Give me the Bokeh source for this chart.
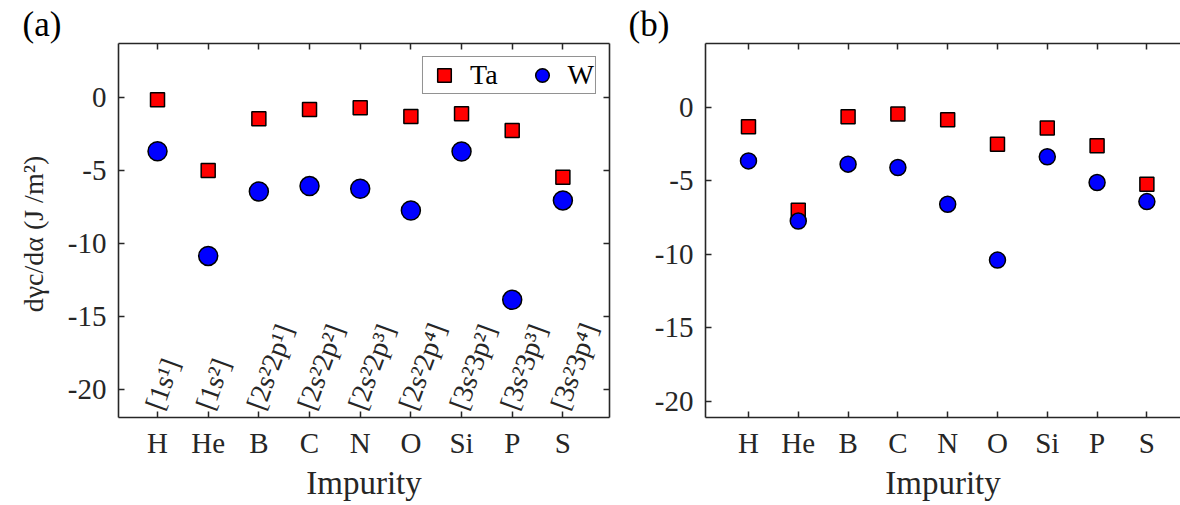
import math
from bokeh.plotting import figure
from bokeh.models import FixedTicker, LinearAxis, Legend, LegendItem, Range1d, Title
from bokeh.layouts import row
from bokeh.embed import file_html
from bokeh.resources import INLINE
from bokeh.core.properties import value

# ---------------- data ----------------
impurities = ["H", "He", "B", "C", "N", "O", "Si", "P", "S"]
configs = ["[1s¹]", "[1s²]", "[2s²2p¹]", "[2s²2p²]", "[2s²2p³]",
           "[2s²2p⁴]", "[3s²3p²]", "[3s²3p³]", "[3s²3p⁴]"]
ta_a = [-0.15, -5.0, -1.46, -0.82, -0.70, -1.30, -1.12, -2.26, -5.46]
w_a = [-3.68, -10.85, -6.44, -6.07, -6.25, -7.74, -3.70, -13.86, -7.05]
ta_b = [-1.32, -7.0, -0.63, -0.45, -0.84, -2.50, -1.40, -2.61, -5.23]
w_b = [-3.64, -7.73, -3.86, -4.09, -6.59, -10.39, -3.36, -5.11, -6.41]
y_ticks = [-20, -15, -10, -5, 0]
series_names = ["Ta", "W"]
panel_tags = ["(a)", "(b)"]
y_label = "dγc/dα  (J /m²)"
x_label = "Impurity"

x_pos = [i + 1 for i in range(len(impurities))]

FONT = "Liberation Serif"
INK = "#262626"
H = 505


def style_axis(ax, show_labels=True):
    ax.axis_line_color = INK
    ax.axis_line_width = 1.6
    ax.major_tick_line_color = INK
    ax.major_tick_line_width = 1.5
    ax.major_tick_in = 6
    ax.major_tick_out = 0
    ax.minor_tick_in = 0
    ax.minor_tick_out = 0
    ax.minor_tick_line_color = None
    ax.major_label_text_font = FONT
    ax.major_label_text_color = INK
    ax.axis_label_text_font = FONT
    ax.axis_label_text_color = INK
    ax.axis_label_text_font_style = "normal"
    if show_labels:
        ax.major_label_text_font_size = "29px"
    else:
        ax.major_label_text_font_size = "1px"
        ax.major_label_text_color = None
        ax.major_label_standoff = 0


def make_panel(width, border, xr, yr, ta, w, right_axis, tag, tag_offset):
    p = figure(width=width, height=H, x_range=Range1d(*xr), y_range=Range1d(*yr),
               output_backend="svg", toolbar_location=None,
               min_border_left=border[0], min_border_right=border[1],
               min_border_top=border[2], min_border_bottom=border[3])
    p.outline_line_color = None
    p.background_fill_color = "white"
    p.border_fill_color = "white"
    p.xgrid.visible = False
    p.ygrid.visible = False

    p.xaxis.ticker = FixedTicker(ticks=x_pos)
    p.xaxis.major_label_overrides = {x: n for x, n in zip(x_pos, impurities)}
    p.yaxis.ticker = FixedTicker(ticks=y_ticks)
    p.yaxis.major_label_overrides = {t: str(t) for t in y_ticks}
    for ax in p.xaxis:
        style_axis(ax)
        ax.major_label_standoff = 9
        ax.axis_label = x_label
        ax.axis_label_text_font_size = "33px"
        ax.axis_label_standoff = 3
    for ax in p.yaxis:
        style_axis(ax)
        ax.major_label_standoff = 12

    top = LinearAxis(ticker=FixedTicker(ticks=x_pos))
    style_axis(top, show_labels=False)
    p.add_layout(top, "above")
    if right_axis:
        rgt = LinearAxis(ticker=FixedTicker(ticks=y_ticks))
        style_axis(rgt, show_labels=False)
        p.add_layout(rgt, "right")

    t = Title(text=tag, align="left", offset=tag_offset, standoff=0,
              text_font=FONT, text_font_size="35px", text_font_style="normal",
              text_color="black")
    p.add_layout(t, "above")

    r_ta = p.scatter(x_pos, ta, marker="square", size=14, fill_color="#FF0000",
                     line_color="black", line_width=1.5)
    r_w = p.scatter(x_pos, w, marker="circle", size=19 if right_axis else 16,
                    fill_color="#0000FF", line_color="black", line_width=1.5)
    return p, r_ta, r_w


# ---------------- panel (a) ----------------
pa, ta_r, w_r = make_panel(625, (118, 16, 43, 88), (0.23, 9.92), (-21.92, 3.70),
                           ta_a, w_a, True, panel_tags[0], -96)
pa.yaxis[0].axis_label = y_label
pa.yaxis[0].axis_label_text_font_size = "28px"
pa.yaxis[0].axis_label_standoff = 16

pa.text(x=x_pos, y=[-21.3] * len(x_pos), text=configs, angle=math.radians(70),
        x_offset=-4, text_align="left", text_baseline="middle",
        text_font=value(FONT), text_font_size="28px", text_color=INK)

legend = Legend(items=[LegendItem(label=series_names[0], renderers=[ta_r]),
                       LegendItem(label=series_names[1], renderers=[w_r])],
                orientation="horizontal", location="top_right")
legend.margin = 13
legend.padding = 1
legend.spacing = 24
legend.glyph_width = 40
legend.glyph_height = 34
legend.label_standoff = 6
legend.label_text_font = FONT
legend.label_text_font_size = "28px"
legend.label_text_color = "black"
legend.border_line_color = INK
legend.border_line_width = 1.5
legend.background_fill_color = "white"
legend.background_fill_alpha = 1.0
pa.add_layout(legend, "center")

# ---------------- panel (b) ----------------
pb, _, _ = make_panel(555, (80, 0, 43, 88), (0.137, 9.675), (-21.1, 4.35),
                      ta_b, w_b, False, panel_tags[1], -77)

layout = row(pa, pb)
open("out.html", "w").write(file_html(layout, INLINE))
